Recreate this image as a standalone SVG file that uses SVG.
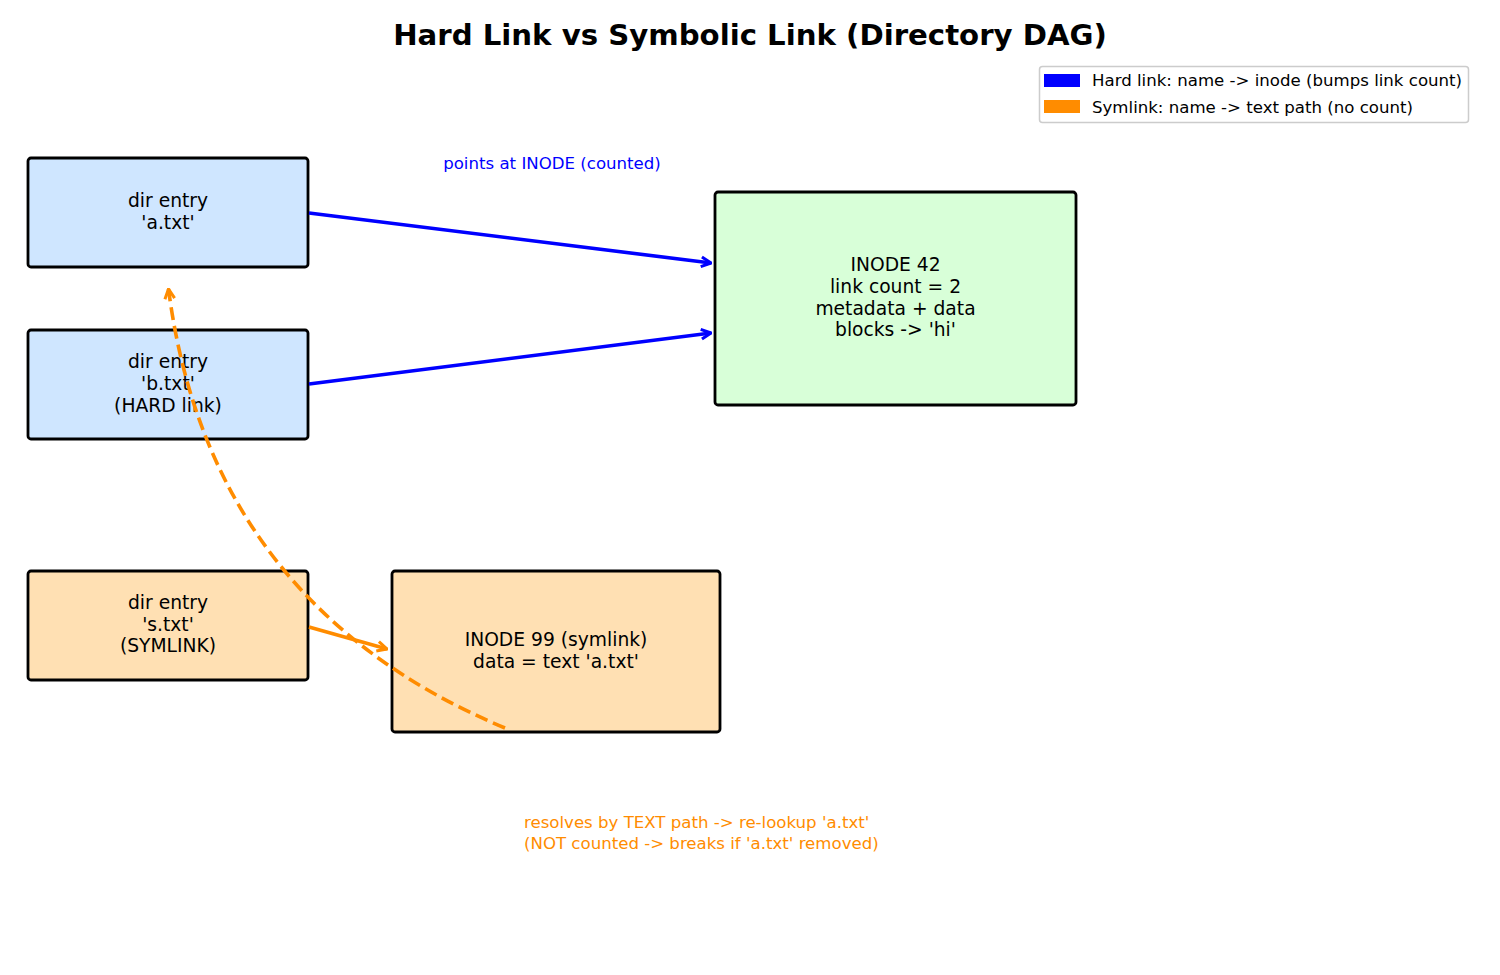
<svg xmlns="http://www.w3.org/2000/svg" width="1500" height="975" viewBox="0 0 1500 975">
<defs>
<marker id="ab" viewBox="0 0 12 12" refX="11" refY="6" markerWidth="13" markerHeight="13" markerUnits="userSpaceOnUse" orient="auto">
<path d="M2,1.5 L11,6 L2,10.5" fill="none" stroke="#0000ff" stroke-width="2.8" stroke-linejoin="miter"/>
</marker>
<marker id="ao" viewBox="0 0 12 12" refX="11" refY="6" markerWidth="13" markerHeight="13" markerUnits="userSpaceOnUse" orient="auto">
<path d="M2,1.5 L11,6 L2,10.5" fill="none" stroke="#ff8c00" stroke-width="2.8" stroke-linejoin="miter"/>
</marker>
</defs>
<style>
text{font-family:"DejaVu Sans","Liberation Sans",sans-serif;}
.box{stroke:#000;stroke-width:2.8;}
.lbl{font-size:18.7px;text-anchor:middle;fill:#000;}
.dir{fill:#cfe6ff;}
.ino{fill:#d8ffd8;}
.sym{fill:#ffe0b3;}
.hard{stroke:#0000ff;stroke-width:3.6;fill:none;marker-end:url(#ab);}
.soft{stroke:#ff8c00;stroke-width:3.6;fill:none;marker-end:url(#ao);}
.small{font-size:16.6px;}
</style>
<rect width="1500" height="975" fill="#fff"/>
<text x="750" y="45" font-size="29.2" font-weight="bold" text-anchor="middle">Hard Link vs Symbolic Link (Directory DAG)</text>

<g id="legend">
<rect x="1039.5" y="66.5" width="429" height="56" rx="3" fill="#fff" stroke="#cccccc" stroke-width="1.5"/>
<rect x="1044" y="74" width="36" height="13" fill="#0000ff"/>
<rect x="1044" y="100" width="36" height="13" fill="#ff8c00"/>
<text x="1092" y="86" class="small">Hard link: name -&gt; inode (bumps link count)</text>
<text x="1092" y="113" class="small">Symlink: name -&gt; text path (no count)</text>
</g>

<g id="node-a">
<rect class="box dir" x="28" y="158" width="280" height="109" rx="3"/>
<text class="lbl" x="168" y="207">dir entry</text>
<text class="lbl" x="168" y="229">'a.txt'</text>
</g>
<g id="node-b">
<rect class="box dir" x="28" y="330" width="280" height="109" rx="3"/>
<text class="lbl" x="168" y="368">dir entry</text>
<text class="lbl" x="168" y="390">'b.txt'</text>
<text class="lbl" x="168" y="412">(HARD link)</text>
</g>
<g id="node-s">
<rect class="box sym" x="28" y="571" width="280" height="109" rx="3"/>
<text class="lbl" x="168" y="609">dir entry</text>
<text class="lbl" x="168" y="631">'s.txt'</text>
<text class="lbl" x="168" y="652">(SYMLINK)</text>
</g>
<g id="node-inode42">
<rect class="box ino" x="715" y="192" width="361" height="213" rx="3"/>
<text class="lbl" x="895.5" y="271">INODE 42</text>
<text class="lbl" x="895.5" y="293">link count = 2</text>
<text class="lbl" x="895.5" y="315">metadata + data</text>
<text class="lbl" x="895.5" y="336">blocks -&gt; 'hi'</text>
</g>
<g id="node-inode99">
<rect class="box sym" x="392" y="571" width="328" height="161" rx="3"/>
<text class="lbl" x="556" y="646">INODE 99 (symlink)</text>
<text class="lbl" x="556" y="668">data = text 'a.txt'</text>
</g>

<g id="connectors">
<path class="hard" d="M309,213 L711,263"/>
<path class="hard" d="M309,384 L711,333"/>
<path class="soft" d="M309,627 L387,649"/>
<path class="soft" d="M505,728 Q209.5,604.6 168.5,289" stroke-dasharray="13,6"/>
</g>

<text x="552" y="169" class="small" fill="#0000ff" text-anchor="middle">points at INODE (counted)</text>
<text x="524" y="828" class="small" fill="#ff8c00">resolves by TEXT path -&gt; re-lookup 'a.txt'</text>
<text x="524" y="849" class="small" fill="#ff8c00">(NOT counted -&gt; breaks if 'a.txt' removed)</text>
</svg>
